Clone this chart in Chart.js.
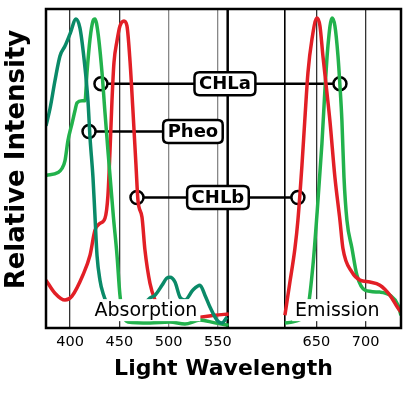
<!DOCTYPE html>
<html>
<head>
<meta charset="utf-8">
<script src="https://cdn.jsdelivr.net/npm/chart.js@4"></script>
<style>
  body { margin: 0; background: #fff; }
  #wrap { width: 420px; height: 399px; position: relative; }
</style>
</head>
<body>
<div id="wrap"><canvas id="spectra"></canvas></div>
<script>
// wavelengths (nm) and relative intensity (0-100)
const tealWl  = [375.5, 379.6, 384.6, 389.7, 394.8, 399.9, 406, 410, 415.1, 418.1, 420.2, 423.2, 425.2, 427.3, 430.3, 433.4, 437.4, 445, 460, 475, 481, 486.2, 493.3, 498, 501.4, 506.5, 511.5, 516.6, 524.7, 531.8, 536.9, 542, 549.1, 554.2, 559.3];
const tealVal = [63.4, 68.8, 77.5, 85.3, 88.4, 92.2, 96.9, 94, 81.6, 71.25, 59.7, 47.2, 35.3, 22.8, 15, 10.9, 7.8, 6, 5.5, 7.5, 9.4, 10.3, 13.4, 15.6, 15.9, 14.4, 9.7, 8.8, 11.9, 13.4, 10.3, 6.6, 2.5, 1.6, 3.4];

const greenAbsWl  = [375.5, 387.7, 391.7, 394.8, 397.8, 401.9, 404.9, 407, 412.1, 415.1, 417.1, 420.2, 423.2, 425.2, 428.3, 432.4, 435.4, 438.4, 444, 447.6, 450.6, 453.7, 458.7, 481, 501.4, 516.6, 531.8, 547, 561];
const greenAbsVal = [47.8, 48.75, 50, 52.5, 58.75, 64.1, 68.1, 70.6, 71.25, 71.25, 80, 90.6, 96.25, 96.9, 92.5, 80, 67.5, 55.6, 34.7, 22.8, 10.3, 4.1, 1.9, 1.6, 1.9, 1.25, 2.5, 1.6, 0.9];

const redAbsWl  = [375.5, 384.6, 394.8, 401.9, 413, 420.2, 425.2, 430.3, 435.4, 438.4, 440.5, 442.5, 444.5, 447.6, 450.6, 454.7, 457.7, 460.8, 463.8, 466.9, 468.9, 473, 476, 481.1, 486.2, 491.2, 511.5, 531.8, 547, 561];
const redAbsVal = [15, 10.9, 8.75, 10, 16.6, 22.8, 30.6, 32.8, 34.4, 41.6, 55.6, 71.25, 83.1, 90, 94.7, 96.25, 94.7, 83.75, 68.1, 50.9, 40, 34.7, 24.4, 14, 8.75, 6.25, 4.7, 3.4, 4, 4.4];

const redEmWl  = [618.1, 623.2, 628.3, 631.3, 635.4, 638.4, 641.5, 645.6, 650.6, 653.7, 656.7, 660.8, 663.8, 668.9, 674, 677, 686.2, 694.3, 704.4, 714.6, 724.7, 732.9, 735.9];
const redEmVal = [4, 14.4, 25, 33.75, 50.9, 65.6, 80, 90.6, 97.2, 94.7, 85.3, 73.75, 65, 47.2, 33.75, 25, 17.5, 15, 14.4, 13.4, 10.3, 6.25, 5];

const greenEmWl  = [618.1, 626.3, 636.4, 641.5, 646.6, 650.6, 655.7, 658.7, 661.8, 665.9, 668.9, 672, 674, 676, 678.1, 681.1, 686.2, 691.2, 699.4, 714.6, 724.7, 732.9, 735.9];
const greenEmVal = [1.6, 1.9, 3.4, 6.25, 19.7, 35.3, 57.8, 74.4, 88.4, 97.2, 94.7, 85.3, 76, 65, 47.2, 33.75, 25, 16.6, 11.9, 11.25, 10.3, 7.2, 4];

const tickValues = [400, 450, 500, 550, 650, 700];
const dividerWl = [560, 618];

// marker lines: label, left circle, right end, height
const markNames = ['CHLa', 'Pheo', 'CHLb'];
const markFrom  = [431.3, 419.2, 467.9];
const markTo    = [674, 496.3, 631.3];
const markRight = [true, false, true];
const markY     = [76.6, 61.6, 40.9];
const markLabelX = [557.2, 524.7, 550.1];

const regionNames = ['Absorption', 'Emission'];
const regionX = [477, 671.4];
const regionY = [5.6, 5.6];

const yTitle = 'Relative Intensity';

const pts = (xs, ys) => xs.map((x, i) => ({ x: x, y: ys[i] }));

const curve = (label, xs, ys, color) => ({
  label: label,
  data: pts(xs, ys),
  borderColor: color,
  borderWidth: 3.5,
  pointRadius: 0,
  cubicInterpolationMode: 'monotone',
  fill: false
});

const datasets = [
  curve('teal', tealWl, tealVal, '#0a8a68'),
  curve('greenAbs', greenAbsWl, greenAbsVal, '#22b24c'),
  curve('redAbs', redAbsWl, redAbsVal, '#e21f26'),
  curve('redEm', redEmWl, redEmVal, '#e21f26'),
  curve('greenEm', greenEmWl, greenEmVal, '#22b24c')
];

// the two vertical lines around the axis gap
dividerWl.forEach((w, i) => {
  datasets.push({
    label: 'div' + i,
    data: [{ x: w, y: 0 }, { x: w, y: 100 }],
    borderColor: '#000',
    borderWidth: i === 0 ? 2.5 : 1.6,
    pointRadius: 0
  });
});

markNames.forEach((n, i) => {
  datasets.push({
    label: n,
    data: [{ x: markFrom[i], y: markY[i] }, { x: markTo[i], y: markY[i] }],
    borderColor: '#000',
    borderWidth: 2.5,
    pointStyle: 'circle',
    pointRadius: [6.5, markRight[i] ? 6.5 : 0],
    pointBackgroundColor: '#fff',
    pointBorderColor: '#000',
    pointBorderWidth: 2.5
  });
});

function roundRect(ctx, x, y, w, h, r) {
  ctx.beginPath();
  ctx.moveTo(x + r, y);
  ctx.lineTo(x + w - r, y);
  ctx.quadraticCurveTo(x + w, y, x + w, y + r);
  ctx.lineTo(x + w, y + h - r);
  ctx.quadraticCurveTo(x + w, y + h, x + w - r, y + h);
  ctx.lineTo(x + r, y + h);
  ctx.quadraticCurveTo(x, y + h, x, y + h - r);
  ctx.lineTo(x, y + r);
  ctx.quadraticCurveTo(x, y, x + r, y);
  ctx.closePath();
}

const labelPlugin = {
  id: 'labels',
  afterDatasetsDraw(chart) {
    const ctx = chart.ctx;
    const xs = chart.scales.x, ys = chart.scales.y;
    ctx.save();
    ctx.textAlign = 'center';
    ctx.textBaseline = 'middle';

    // region names on white
    ctx.font = '19px "DejaVu Sans"';
    regionNames.forEach((t, i) => {
      const cx = xs.getPixelForValue(regionX[i]);
      const cy = ys.getPixelForValue(regionY[i]);
      const w = ctx.measureText(t).width + 6;
      ctx.fillStyle = '#fff';
      ctx.fillRect(cx - w / 2, cy - 11, w, 22);
      ctx.fillStyle = '#000';
      ctx.fillText(t, cx, cy + 1);
    });

    // boxed marker labels
    ctx.font = 'bold 18px "DejaVu Sans"';
    markNames.forEach((t, i) => {
      const cx = xs.getPixelForValue(markLabelX[i]);
      const cy = ys.getPixelForValue(markY[i]);
      const w = ctx.measureText(t).width + 9;
      const h = 23;
      roundRect(ctx, cx - w / 2, cy - h / 2, w, h, 5);
      ctx.fillStyle = '#fff';
      ctx.fill();
      ctx.lineWidth = 2.5;
      ctx.strokeStyle = '#000';
      ctx.stroke();
      ctx.fillStyle = '#000';
      ctx.fillText(t, cx, cy + 1);
    });

    // frame
    const a = chart.chartArea;
    ctx.lineWidth = 2.5;
    ctx.strokeStyle = '#000';
    ctx.strokeRect(a.left, a.top, a.right - a.left, a.bottom - a.top);

    // y axis title, a bit above the middle like the original
    ctx.translate(17, (a.top + a.bottom) / 2 - 9);
    ctx.rotate(-Math.PI / 2);
    ctx.font = 'bold 26px "DejaVu Sans"';
    ctx.fillStyle = '#000';
    ctx.fillText(yTitle, 0, 0);
    ctx.restore();
  }
};

new Chart(document.getElementById('spectra'), {
  type: 'line',
  data: { datasets: datasets },
  plugins: [labelPlugin],
  options: {
    responsive: true,
    maintainAspectRatio: false,
    animation: false,
    layout: { padding: { top: 8, right: 19, left: 0, bottom: 0 } },
    plugins: { legend: { display: false }, tooltip: { enabled: false } },
    scales: {
      x: {
        type: 'linear',
        min: 375.5,
        max: 736,
        afterBuildTicks: (s) => { s.ticks = tickValues.map(v => ({ value: v })); },
        afterFit: (s) => { s.height = 71; },
        grid: {
          drawTicks: false,
          color: (c) => (c.tick && (c.tick.value === 500 || c.tick.value === 550)) ? '#888' : '#333',
          lineWidth: 1.3
        },
        border: { display: false },
        ticks: {
          padding: 6,
          color: '#000',
          font: { family: 'DejaVu Sans', size: 14.5 }
        },
        title: {
          display: true,
          text: 'Light Wavelength',
          color: '#000',
          font: { family: 'DejaVu Sans', size: 22, weight: 'bold' },
          padding: { top: 0, bottom: 17 }
        }
      },
      y: {
        min: 0,
        max: 100,
        afterFit: (s) => { s.width = 46; },
        grid: { display: false },
        border: { display: false },
        ticks: { display: false },
        title: { display: false }
      }
    }
  }
});
</script>
</body>
</html>
